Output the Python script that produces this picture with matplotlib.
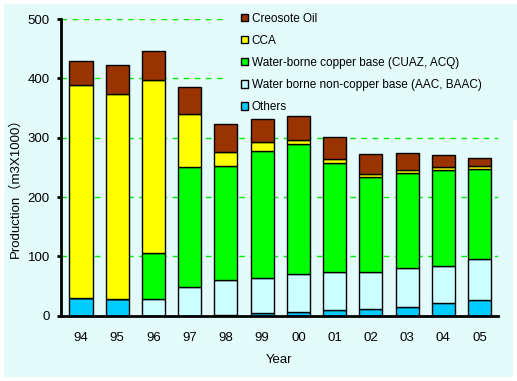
"""Stacked bar chart of wood preservative production by year."""

import matplotlib
matplotlib.use("Agg")
import matplotlib.pyplot as plt
from matplotlib.patches import Patch, Rectangle
import numpy as np

plt.rcParams["font.family"] = ["Liberation Sans", "Noto Sans CJK JP", "DejaVu Sans"]

years = ["94", "95", "96", "97", "98", "99", "00", "01", "02", "03", "04", "05"]
others = [29, 28, 0, 0, 2, 4, 7, 9, 11, 14, 21, 26]
non_copper = [0, 0, 28, 49, 58, 59, 64, 64, 62, 66, 62, 69]
copper = [0, 0, 77, 201, 193, 214, 218, 184, 160, 160, 162, 153]
cca = [360, 346, 292, 90, 23, 15, 7, 7, 5, 5, 5, 4]
creosote = [41, 48, 49, 45, 47, 39, 41, 37, 34, 29, 20, 13]

series = [
    ("Others", others, "#00ccff"),
    ("Water borne non-copper base (AAC, BAAC)", non_copper, "#ccffff"),
    ("Water-borne copper base (CUAZ, ACQ)", copper, "#00ff00"),
    ("CCA", cca, "#ffff00"),
    ("Creosote Oil", creosote, "#993300"),
]

BG = "#e4fbfb"
W, H = 517, 381

fig = plt.figure(figsize=(5.17, 3.81), dpi=100)
fig.patch.set_facecolor("white")
bg = Rectangle((4 / W, 4 / H), 509 / W, 373 / H,
               transform=fig.transFigure, facecolor=BG, edgecolor="none")
bg.set_zorder(-5)
fig.patches.append(bg)

ax = fig.add_axes([61 / W, 0.1714, 0.8447, 0.7787])
ax.set_facecolor("none")

x = np.arange(len(years))
bottom = np.zeros(len(years))
for name, vals, color in series:
    ax.bar(x, vals, 0.64, bottom=bottom, color=color, edgecolor="black",
           linewidth=1, zorder=3)
    bottom += np.array(vals)

# dashed grid lines
for yv in [100, 200, 300, 400, 500]:
    ax.axhline(yv, color="#00ee00", linestyle=(0, (4, 4)), linewidth=1, zorder=1)

# legend area hides the grid lines behind it
ax.add_patch(Rectangle((223 / W, 1 - 120 / H), 1 - 223 / W, 116 / H,
                       transform=fig.transFigure, facecolor=BG,
                       edgecolor="none", zorder=2, clip_on=False))

ax.set_xlim(-0.55, 11.5)
ax.set_ylim(0, 500)
ax.set_xticks(x)
ax.set_xticklabels(years)
ax.set_yticks([0, 100, 200, 300, 400, 500])
ax.tick_params(axis="x", length=0, pad=12, labelsize=9.5)
ax.tick_params(axis="y", length=3, width=2, pad=5, labelsize=9.5)

for side in ["top", "right"]:
    ax.spines[side].set_visible(False)
for side in ["left", "bottom"]:
    ax.spines[side].set_linewidth(2)
    ax.spines[side].set_zorder(4)

ax.set_xlabel("Year", fontsize=9.5, labelpad=7)
fig.text(15 / W, 1 - 185 / H, "Production（m3X1000）", rotation=90,
         ha="center", va="center", fontsize=9.5)

handles = [Patch(facecolor=c, edgecolor="black", linewidth=1, label=n)
           for n, _, c in reversed(series)]
leg = fig.legend(handles=handles, loc="upper left",
                 bbox_to_anchor=(230 / W, 1 - 2 / H), fontsize=8.5,
                 frameon=False, handlelength=0.65, handleheight=0.65,
                 handletextpad=0.3, labelspacing=0.85, borderpad=0.4)
leg.set_zorder(10)

fig.savefig("out.png", dpi=100, facecolor="white")
